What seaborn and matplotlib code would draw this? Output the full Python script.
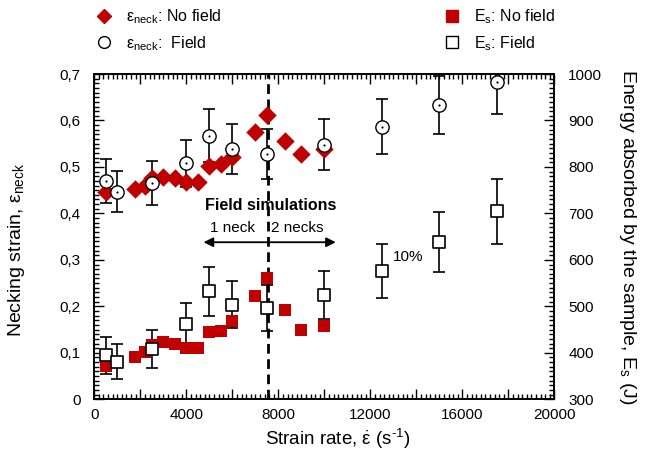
import matplotlib
matplotlib.use("Agg")
import matplotlib.pyplot as plt
import matplotlib.ticker as mticker
from matplotlib.lines import Line2D
import seaborn as sns
import pandas as pd

# ---- data ----
rate_nofield = [500, 1750, 2200, 2500, 3000, 3500, 4000, 4500, 5000, 5500, 6000,
                7000, 7500, 8300, 9000, 10000]
strain_nofield = [0.447, 0.452, 0.459, 0.476, 0.479, 0.476, 0.468, 0.468, 0.502,
                  0.506, 0.522, 0.575, 0.612, 0.555, 0.527, 0.538]
energy_nofield = [372, 392, 402, 417, 423, 419, 410, 410, 445, 448, 469,
                  522, 560, 492, 449, 458]

rate_field = [500, 1000, 2500, 4000, 5000, 6000, 7500, 10000, 12500, 15000, 17500]
strain_field = [0.470, 0.447, 0.466, 0.508, 0.567, 0.539, 0.528, 0.548, 0.587, 0.633, 0.682]
strain_field_err = [0.047, 0.045, 0.047, 0.051, 0.057, 0.054, 0.053, 0.055, 0.059, 0.063, 0.068]
energy_field = [395, 381, 408, 462, 532, 504, 496, 524, 577, 638, 705]
energy_field_err = [40, 38, 41, 46, 53, 50, 50, 52, 58, 64, 70]

transition_rate = 7540

df_nf = pd.DataFrame({"rate": rate_nofield, "strain": strain_nofield, "energy": energy_nofield})
df_f = pd.DataFrame({"rate": rate_field, "strain": strain_field, "energy": energy_field})

sns.set_style("ticks")
plt.rcParams["font.family"] = ["Liberation Sans", "DejaVu Sans"]
plt.rcParams["mathtext.fontset"] = "custom"
plt.rcParams["mathtext.rm"] = "Liberation Sans"
plt.rcParams["mathtext.it"] = "Liberation Sans:italic"
plt.rcParams["mathtext.bf"] = "Liberation Sans:bold"
for k in ["text.color", "axes.labelcolor", "xtick.color", "ytick.color", "axes.edgecolor"]:
    plt.rcParams[k] = "black"

RED = "#C00000"

fig = plt.figure(figsize=(6.45, 4.62), dpi=100)
ax = fig.add_axes([0.1462, 0.1357, 0.7132, 0.7041])
ax2 = ax.twinx()

# left axis: necking strain
ax.errorbar(df_f["rate"], df_f["strain"], yerr=strain_field_err, fmt="none",
            ecolor="black", elinewidth=1.2, capsize=4, capthick=1.2, zorder=3)
sns.scatterplot(data=df_nf, x="rate", y="strain", marker="D", s=88, color=RED,
                edgecolor=RED, linewidth=0, ax=ax, zorder=4, legend=False)
sns.scatterplot(data=df_f, x="rate", y="strain", marker="o", s=92, color="white",
                edgecolor="black", linewidth=1.0, ax=ax, zorder=5, legend=False)
sns.scatterplot(data=df_f, x="rate", y="strain", marker="o", s=2.5, color="black",
                edgecolor="black", linewidth=0, ax=ax, zorder=6, legend=False)

# right axis: energy
ax2.errorbar(df_f["rate"], df_f["energy"], yerr=energy_field_err, fmt="none",
             ecolor="black", elinewidth=1.2, capsize=4, capthick=1.2, zorder=3)
sns.scatterplot(data=df_nf, x="rate", y="energy", marker="s", s=82, color=RED,
                edgecolor=RED, linewidth=0, ax=ax2, zorder=4, legend=False)
sns.scatterplot(data=df_f, x="rate", y="energy", marker="s", s=72, color="white",
                edgecolor="black", linewidth=1.2, ax=ax2, zorder=5, legend=False)

ax.axvline(transition_rate, color="black", ls=(0, (3.5, 2)), lw=2, zorder=2)

# annotations
ax.text(7650, 0.418, "Field simulations", ha="center", va="center",
        fontsize=11.5, fontweight="bold")
ax.text(6000, 0.368, "1 neck", ha="center", va="center", fontsize=11)
ax.text(7700, 0.368, "2 necks", ha="left", va="center", fontsize=11)
ax.annotate("", xy=(4750, 0.338), xytext=(10500, 0.338),
            arrowprops=dict(arrowstyle="<|-|>", color="black", lw=1.3,
                            mutation_scale=14, shrinkA=0, shrinkB=0))
ax.text(13000, 0.307, "10%", ha="left", va="center", fontsize=11)

# axes limits / ticks
ax.set_xlim(0, 20000)
ax.set_ylim(0, 0.7)
ax2.set_ylim(300, 1000)

ax.xaxis.set_major_locator(mticker.MultipleLocator(2000))
ax.xaxis.set_minor_locator(mticker.MultipleLocator(200))
ax.xaxis.set_major_formatter(mticker.FuncFormatter(
    lambda v, p: f"{int(round(v))}" if int(round(v)) % 4000 == 0 else ""))
ax.yaxis.set_major_locator(mticker.MultipleLocator(0.1))
ax.yaxis.set_minor_locator(mticker.MultipleLocator(0.01))
ax.yaxis.set_major_formatter(mticker.FuncFormatter(
    lambda v, p: "0" if abs(v) < 1e-9 else f"{v:.1f}".replace(".", ",")))
ax2.yaxis.set_major_locator(mticker.MultipleLocator(100))
ax2.yaxis.set_minor_locator(mticker.MultipleLocator(10))

ax.tick_params(which="both", direction="in", top=True, right=False, width=1,
               labelsize=11, colors="black")
ax.tick_params(which="major", length=7)
ax.tick_params(which="minor", length=3.5)
ax.tick_params(axis="x", pad=6)
ax.tick_params(axis="y", pad=10)
ax2.tick_params(which="both", direction="in", width=1, labelsize=11, pad=10,
                colors="black")
ax2.tick_params(which="major", length=7)
ax2.tick_params(which="minor", length=3.5)

for a in (ax, ax2):
    for sp in a.spines.values():
        sp.set_visible(True)
        sp.set_linewidth(1.2)
        sp.set_color("black")

ax.set_xlabel("Strain rate, $\\dot{\\mathrm{ε}}$ (s$^{\\mathrm{\u20101}}$)", fontsize=13.5)
ax.xaxis.set_label_coords(0.53, -0.085)
ax.set_ylabel(r"Necking strain, ε$_{\mathrm{neck}}$", fontsize=14)
ax.yaxis.set_label_coords(-0.146, 0.46)
ax2.set_ylabel(r"Energy absorbed by the sample, E$_{\mathrm{s}}$ (J)", fontsize=14,
               rotation=270, labelpad=26)

# legends
h1 = [Line2D([], [], ls="none", marker="D", ms=7.5, color=RED, mec=RED),
      Line2D([], [], ls="none", marker="o", ms=8.5, mfc="white", mec="black", mew=1)]
l1 = [r"ε$_{\mathrm{neck}}$: No field", r"ε$_{\mathrm{neck}}$:  Field"]
h2 = [Line2D([], [], ls="none", marker="s", ms=8.5, color=RED, mec=RED),
      Line2D([], [], ls="none", marker="s", ms=8.5, mfc="white", mec="black", mew=1)]
l2 = [r"E$_{\mathrm{s}}$: No field", r"E$_{\mathrm{s}}$: Field"]
leg1 = fig.legend(h1, l1, loc="upper left", bbox_to_anchor=(0.149, 0.984),
                  frameon=False, fontsize=11.5, handlelength=0.95, handletextpad=0.95,
                  borderpad=0, borderaxespad=0, labelspacing=0.5)
leg2 = fig.legend(h2, l2, loc="upper left", bbox_to_anchor=(0.689, 0.984),
                  frameon=False, fontsize=11.5, handlelength=0.95, handletextpad=0.9,
                  borderpad=0, borderaxespad=0, labelspacing=0.5)

fig.savefig("out.png", dpi=100)
